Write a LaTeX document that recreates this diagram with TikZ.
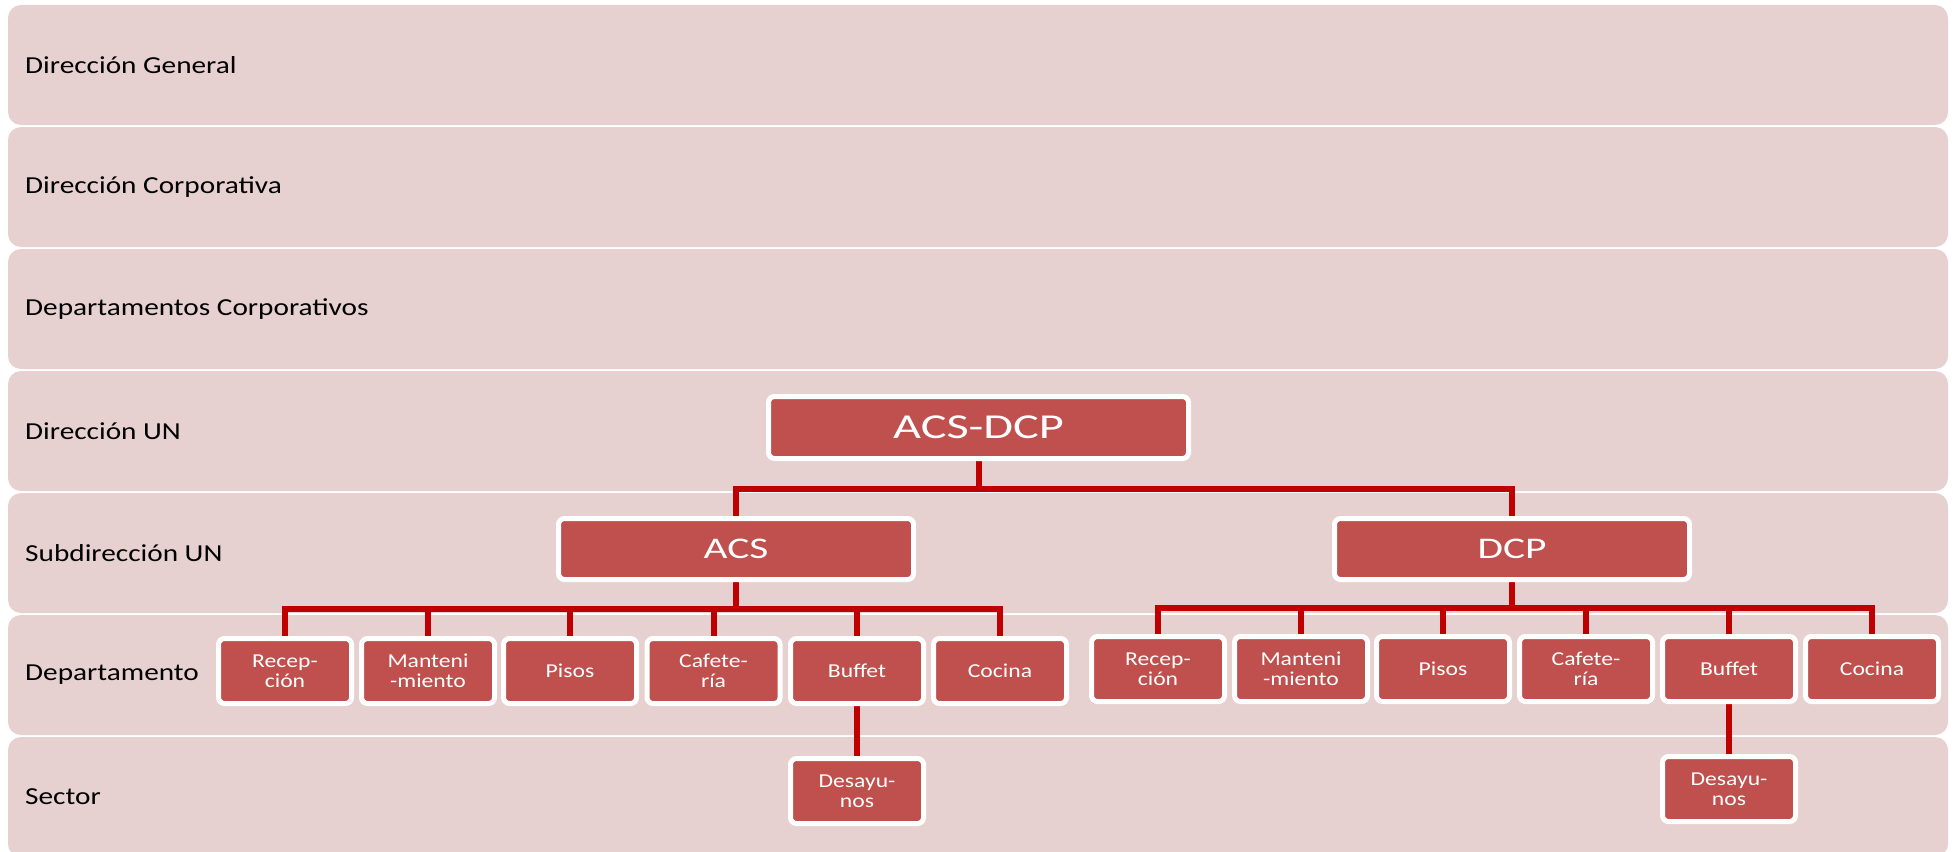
\documentclass[tikz,border=0pt]{standalone}
\usepackage{fontspec}
\setmainfont{Carlito}
\newfontfamily\lblfont[FakeStretch=1.2]{Carlito}
\newfontfamily\boxfont[FakeStretch=1.2]{Carlito}
\newfontfamily\bigfont[FakeStretch=1.38]{Carlito}
\definecolor{bandfill}{RGB}{231,208,208}
\definecolor{boxfill}{RGB}{192,80,77}
\definecolor{connred}{RGB}{192,0,0}
\pgfdeclarelayer{bandlayer}
\pgfdeclarelayer{connlayer}
\pgfsetlayers{bandlayer,connlayer,main}
\begin{document}
\begin{tikzpicture}[x=1pt,y=-1pt,
  band/.style={fill=bandfill, rounded corners=13pt},
  lbl/.style={anchor=west, inner sep=0pt, text=black, font=\lblfont\fontsize{24.4}{28}\selectfont},
  unit/.style={draw=white, line width=5pt, fill=boxfill, rounded corners=6pt, text=white, inner sep=0pt, align=center},
  dept/.style={unit, minimum width=133pt, minimum height=65pt, font=\boxfont\fontsize{19.7}{20.5}\selectfont},
  subunit/.style={unit, minimum width=355pt, minimum height=61pt, font=\bigfont\fontsize{30}{34}\selectfont},
  topunit/.style={unit, minimum width=420pt, minimum height=62pt, font=\bigfont\fontsize{35}{40}\selectfont},
  conn/.style={draw=connred, line width=6pt}
]
\useasboundingbox (0,0) rectangle (1953,851);
\begin{pgfonlayer}{bandlayer}
  \fill[white] (0,0) rectangle (1953,851);
  \foreach \i in {0,...,6} {
    \fill[band] (8,{5+122*\i}) rectangle (1948,{125+122*\i});
  }
\end{pgfonlayer}

% row labels
\node[lbl] (l1) at (25,65)  {Dirección General};
\node[lbl] (l2) at (25,187) {Dirección Corporativa};
\node[lbl] (l3) at (25,309) {Departamentos Corporativos};
\node[lbl] (l4) at (25,431) {Dirección UN};
\node[lbl] (l5) at (25,553) {Subdirección UN};
\node[lbl] (l6) at (25,675) {Departamento};
\node[lbl] (l7) at (25,797) {Sector};

% units
\node[topunit] (top) at (978.5,427.5) {ACS-DCP};
\node[subunit] (acs) at (736,549) {ACS};
\node[subunit] (dcp) at (1512,549) {DCP};

\node[dept] (a1) at (285,671)   {Recep-\\ción};
\node[dept] (a2) at (428,671)   {Manteni\\-miento};
\node[dept] (a3) at (570,671)   {Pisos};
\node[dept] (a4) at (713.5,671) {Cafete-\\ría};
\node[dept] (a5) at (857,671)   {Buffet};
\node[dept] (a6) at (1000,671)  {Cocina};
\node[dept] (ad) at (857,791)   {Desayu-\\nos};

\node[dept] (d1) at (1158,669) {Recep-\\ción};
\node[dept] (d2) at (1301,669) {Manteni\\-miento};
\node[dept] (d3) at (1443,669) {Pisos};
\node[dept] (d4) at (1586,669) {Cafete-\\ría};
\node[dept] (d5) at (1729,669) {Buffet};
\node[dept] (d6) at (1872,669) {Cocina};
\node[dept] (dd) at (1729,789) {Desayu-\\nos};

\coordinate (bus0) at (0,488.5);
\coordinate (bus1) at (0,609);
\coordinate (bus2) at (0,608);

\begin{pgfonlayer}{connlayer}
  \draw[conn] (top.south) -- (top.south |- bus0);
  \draw[conn] (acs.north) -- (acs.north |- bus0) -- (dcp.north |- bus0) -- (dcp.north);
  \draw[conn] (acs.south) -- (acs.south |- bus1);
  \draw[conn] (a1.north) -- (a1.north |- bus1) -- (a6.north |- bus1) -- (a6.north);
  \foreach \n in {a2,a3,a4,a5} { \draw[conn] (\n.north) -- (\n.north |- bus1); }
  \draw[conn] (a5.south) -- (ad.north);
  \draw[conn] (dcp.south) -- (dcp.south |- bus2);
  \draw[conn] (d1.north) -- (d1.north |- bus2) -- (d6.north |- bus2) -- (d6.north);
  \foreach \n in {d2,d3,d4,d5} { \draw[conn] (\n.north) -- (\n.north |- bus2); }
  \draw[conn] (d5.south) -- (dd.north);
\end{pgfonlayer}
\end{tikzpicture}
\end{document}
